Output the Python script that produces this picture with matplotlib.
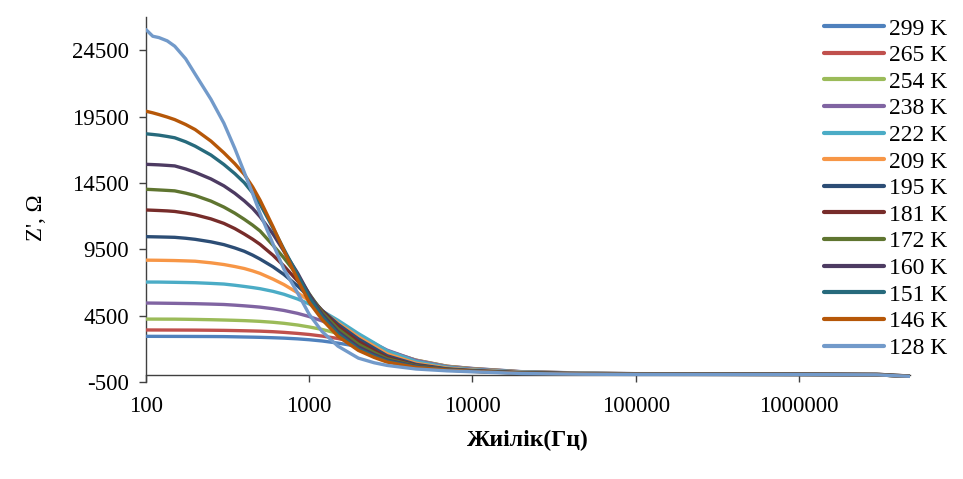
import matplotlib
matplotlib.use("Agg")
import matplotlib.pyplot as plt
from matplotlib.ticker import FixedLocator, FixedFormatter

# Czestotliwosc [Hz]
czestotliwosc = [100, 110, 120, 135, 150, 175, 200, 250, 300, 350, 400, 450, 500, 600,
                 700, 850, 1000, 1200, 1500, 2000, 2500, 3000, 4500, 7000, 10000, 20000,
                 50000, 100000, 1000000, 3000000, 3600000, 4800000]

# Z' [Ohm] dla kazdej temperatury
z_299 = [2940, 2939, 2938, 2936, 2935, 2933, 2930, 2926, 2920, 2905, 2890, 2878, 2865, 2835,
         2805, 2750, 2685, 2590, 2430, 2180, 1920, 1650, 1100, 680, 520, 280,
         170, 130, 110, 90, 30, -50]
z_265 = [3420, 3419, 3418, 3416, 3415, 3412, 3410, 3400, 3390, 3375, 3360, 3345, 3330, 3290,
         3240, 3160, 3080, 2960, 2780, 2420, 2100, 1780, 1150, 690, 510, 270,
         165, 125, 105, 85, 30, -50]
z_254 = [4240, 4239, 4238, 4236, 4235, 4225, 4215, 4193, 4170, 4147, 4124, 4096, 4067, 4000,
         3922, 3792, 3647, 3460, 3160, 2650, 2230, 1850, 1150, 680, 490, 260,
         160, 120, 100, 80, 25, -55]
z_238 = [5450, 5445, 5440, 5432, 5425, 5412, 5400, 5370, 5340, 5290, 5240, 5190, 5140, 5020,
         4890, 4670, 4430, 4100, 3650, 2950, 2400, 1900, 1130, 650, 470, 250,
         150, 115, 95, 75, 20, -60]
z_222 = [7030, 7029, 7028, 7018, 7010, 6995, 6980, 6930, 6880, 6790, 6700, 6615, 6530, 6330,
         6110, 5750, 5380, 4850, 4150, 3150, 2450, 1850, 1050, 600, 430, 240,
         145, 110, 90, 70, 15, -60]
z_209 = [8680, 8675, 8670, 8660, 8650, 8625, 8600, 8480, 8350, 8200, 8050, 7870, 7680, 7250,
         6840, 6220, 5620, 4850, 3950, 2900, 2200, 1620, 920, 540, 390, 220,
         135, 105, 85, 65, 10, -65]
z_195 = [10450, 10440, 10430, 10415, 10400, 10330, 10250, 10060, 9850, 9600, 9350, 9060, 8760,
         8180, 7600, 6730, 5900, 4900, 3850, 2750, 2050, 1480, 830, 490, 360, 200,
         125, 100, 80, 60, 5, -65]
z_181 = [12460, 12440, 12420, 12390, 12350, 12230, 12100, 11790, 11450, 11060, 10650, 10260,
         9870, 9050, 8240, 7100, 6050, 4850, 3700, 2550, 1870, 1350, 760, 460, 340, 190,
         120, 95, 75, 55, 0, -70]
z_172 = [14020, 13995, 13970, 13935, 13900, 13730, 13550, 13130, 12680, 12220, 11760, 11320,
         10880, 9800, 8850, 7500, 6150, 4750, 3500, 2350, 1720, 1250, 720, 450, 330, 180,
         115, 90, 70, 52, -5, -70]
z_160 = [15900, 15880, 15860, 15820, 15780, 15550, 15300, 14800, 14280, 13720, 13150, 12580,
         11950, 10650, 9350, 7700, 6100, 4600, 3300, 2150, 1570, 1150, 680, 440, 320, 175,
         110, 88, 68, 50, -5, -70]
z_151 = [18200, 18150, 18100, 18000, 17900, 17600, 17270, 16600, 15890, 15200, 14520, 13750,
         12900, 11100, 9500, 7550, 5900, 4450, 3150, 2000, 1460, 1080, 640, 420, 310, 170,
         105, 85, 65, 48, -8, -72]
z_146 = [19900, 19780, 19650, 19460, 19270, 18900, 18520, 17650, 16770, 15950, 15140, 14200,
         13200, 11200, 9400, 7200, 5500, 4200, 2950, 1880, 1350, 1000, 600, 400, 300, 160,
         100, 80, 62, 45, -10, -75]
z_128 = [26050, 25550, 25450, 25200, 24800, 23850, 22700, 20800, 19000, 17100, 15300, 13700,
         12200, 9900, 8000, 6200, 4600, 3300, 2200, 1300, 950, 750, 480, 340, 270, 140,
         85, 68, 58, 42, -10, -75]

etykiety = ["299 K", "265 K", "254 K", "238 K", "222 K", "209 K", "195 K",
            "181 K", "172 K", "160 K", "151 K", "146 K", "128 K"]
serie = [z_299, z_265, z_254, z_238, z_222, z_209, z_195,
         z_181, z_172, z_160, z_151, z_146, z_128]
kolory = ["#4F81BD", "#C0504D", "#9BBB59", "#8064A2", "#4BACC6", "#F79646", "#2C4D75",
          "#772C2A", "#5F7530", "#4D3B62", "#276A7C", "#B65708", "#729ACA"]

x_ticki = [100, 1000, 10000, 100000, 1000000]
x_etykiety = ["100", "1000", "10000", "100000", "1000000"]
y_ticki = [-500, 4500, 9500, 14500, 19500, 24500]
y_etykiety = ["-500", "4500", "9500", "14500", "19500", "24500"]

plt.rcParams["font.family"] = ["Liberation Serif", "DejaVu Serif"]

fig = plt.figure(figsize=(9.63, 4.79), dpi=100)
ax = fig.add_axes([146 / 963, 1 - 382 / 479, (910 - 146) / 963, (382 - 17) / 479])

for z, et, kol in zip(serie, etykiety, kolory):
    ax.plot(czestotliwosc, z, color=kol, lw=2.4, label=et, zorder=3,
            solid_capstyle="round", solid_joinstyle="round")

ax.set_xscale("log")
ax.set_xlim(100, 4800000)
ax.set_ylim(-500, 27000)

ax.xaxis.set_major_locator(FixedLocator(x_ticki))
ax.xaxis.set_major_formatter(FixedFormatter(x_etykiety))
ax.xaxis.set_minor_locator(FixedLocator([]))
ax.yaxis.set_major_locator(FixedLocator(y_ticki))
ax.yaxis.set_major_formatter(FixedFormatter(y_etykiety))

# os pozioma przechodzi przez 0, jak w Excelu
ax.spines["bottom"].set_position(("data", 0))
ax.spines["top"].set_visible(False)
ax.spines["right"].set_visible(False)
for s in ["left", "bottom"]:
    ax.spines[s].set_color("#404040")
    ax.spines[s].set_linewidth(1.0)

ax.tick_params(axis="x", direction="out", length=5, width=1, color="#404040",
               labelsize=16.5, pad=10)
ax.tick_params(axis="y", direction="out", length=5, width=1, color="#404040",
               labelsize=16.5, pad=7)

ax.set_xlabel("Жиілік(Гц)", fontsize=17, fontweight="bold")
ax.xaxis.set_label_coords(0.5, -0.13)
ax.set_ylabel("Z', Ω", fontsize=16.5)
ax.yaxis.set_label_coords(-0.13, 0.45)

leg = ax.legend(loc="upper left", bbox_to_anchor=(824 / 963, 1 - 18 / 479),
                bbox_transform=fig.transFigure, frameon=False, fontsize=17,
                handlelength=2.55, handletextpad=0.22, labelspacing=0.215,
                borderpad=0, borderaxespad=0)
for linia in leg.get_lines():
    linia.set_linewidth(3)

fig.savefig("out.png", dpi=100)
